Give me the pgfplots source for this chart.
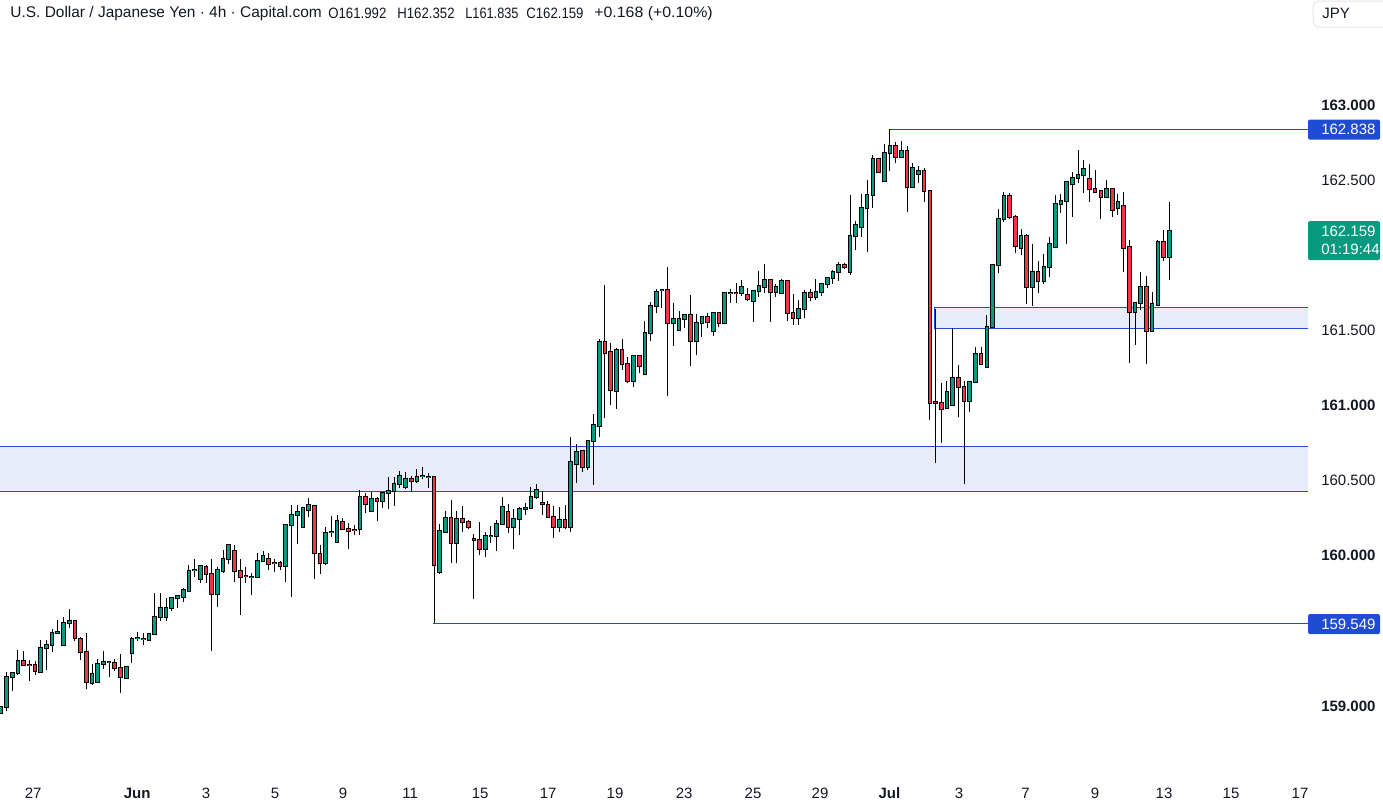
\documentclass[border=0pt]{standalone}
\usepackage{pgfplots}
\pgfplotsset{compat=1.18}
\usepackage{pgfplotstable}
\usepackage{graphicx}
\usepackage{fontspec}
\setmainfont{Liberation Sans}
\definecolor{tvgreen}{RGB}{8,153,129}
\definecolor{tvred}{RGB}{242,54,69}
\definecolor{tvtext}{RGB}{19,23,34}
\definecolor{zonefill}{RGB}{232,236,249}
\definecolor{zoneblue}{RGB}{31,76,210}
\definecolor{boxgray}{RGB}{224,227,235}
\newcommand{\lbl}{\fontsize{11.25pt}{13pt}\selectfont}
\newcommand{\ttl}{\fontsize{11.6pt}{13pt}\selectfont}

\pgfplotstableread{
i o h l c
1 158.955 159.001 158.950 158.995
2 158.995 159.228 158.968 159.194
3 159.194 159.221 159.101 159.217
4 159.217 159.372 159.205 159.299
5 159.296 159.365 159.265 159.270
6 159.271 159.305 159.168 159.269
7 159.270 159.299 159.205 159.230
8 159.228 159.438 159.221 159.383
9 159.383 159.438 159.239 159.403
10 159.403 159.512 159.361 159.483
11 159.485 159.572 159.483 159.489
12 159.403 159.594 159.403 159.549
13 159.549 159.643 159.518 159.563
14 159.563 159.563 159.434 159.450
15 159.443 159.461 159.305 159.356
16 159.356 159.487 159.110 159.157
17 159.150 159.279 159.141 159.210
18 159.157 159.312 159.157 159.276
19 159.276 159.367 159.245 159.290
20 159.289 159.294 159.194 159.290
21 159.283 159.312 159.234 159.250
22 159.250 159.345 159.088 159.190
23 159.183 159.261 159.181 159.256
24 159.350 159.456 159.288 159.445
25 159.449 159.494 159.434 159.450
26 159.448 159.487 159.403 159.446
27 159.436 159.487 159.430 159.476
28 159.476 159.753 159.476 159.593
29 159.589 159.753 159.567 159.649
30 159.593 159.715 159.567 159.655
31 159.655 159.722 159.633 159.715
32 159.715 159.737 159.649 159.731
33 159.726 159.782 159.693 159.771
34 159.768 159.937 159.760 159.897
35 159.902 159.975 159.859 159.904
36 159.848 159.937 159.815 159.930
37 159.926 159.937 159.815 159.875
38 159.875 159.981 159.367 159.742
39 159.748 159.922 159.660 159.908
40 159.899 160.037 159.886 159.975
41 159.975 160.081 159.944 160.068
42 160.028 160.070 159.826 159.895
43 159.895 159.981 159.604 159.855
44 159.866 159.922 159.815 159.864
45 159.855 159.886 159.737 159.858
46 159.855 160.015 159.855 159.964
47 159.962 160.030 159.962 160.001
48 159.975 160.015 159.904 159.946
49 159.948 159.981 159.893 159.949
50 159.948 159.964 159.904 159.933
51 159.933 160.210 159.826 160.203
52 160.203 160.337 159.726 160.270
53 160.268 160.337 160.081 160.288
54 160.193 160.326 160.186 160.315
55 160.304 160.381 160.259 160.335
56 160.330 160.337 159.842 160.015
57 160.008 160.070 159.877 159.948
58 159.948 160.188 159.937 160.148
59 160.157 160.264 160.122 160.158
60 160.088 160.270 160.088 160.230
61 160.221 160.253 160.170 160.181
62 160.181 160.219 160.044 160.166
63 160.172 160.204 160.137 160.170
64 160.175 160.437 160.137 160.388
65 160.392 160.419 160.281 160.341
66 160.295 160.426 160.295 160.375
67 160.375 160.392 160.233 160.361
68 160.361 160.426 160.319 160.415
69 160.415 160.525 160.310 160.430
70 160.428 160.525 160.332 160.477
71 160.477 160.563 160.450 160.530
72 160.459 160.557 160.446 160.508
73 160.508 160.530 160.421 160.494
74 160.494 160.574 160.486 160.521
75 160.529 160.588 160.508 160.531
76 160.525 160.548 160.452 160.526
77 160.521 160.530 159.549 159.935
78 159.889 160.210 159.878 160.162
79 160.160 160.297 160.148 160.248
80 160.248 160.370 159.949 160.082
81 160.082 160.297 159.949 160.242
82 160.242 160.330 160.160 160.222
83 160.222 160.237 160.180 160.193
84 160.113 160.144 159.709 160.104
85 160.104 160.224 160.006 160.042
86 160.042 160.157 159.989 160.131
87 160.130 160.197 160.086 160.131
88 160.131 160.237 160.029 160.208
89 160.208 160.388 160.208 160.322
90 160.288 160.344 160.153 160.188
91 160.188 160.308 160.042 160.242
92 160.246 160.322 160.140 160.308
93 160.314 160.348 160.273 160.316
94 160.315 160.455 160.315 160.388
95 160.388 160.475 160.379 160.435
96 160.348 160.433 160.273 160.346
97 160.339 160.362 160.255 160.255
98 160.255 160.330 160.115 160.193
99 160.193 160.322 160.160 160.237
100 160.237 160.337 160.180 160.188
101 160.188 160.792 160.160 160.621
102 160.608 160.743 160.486 160.688
103 160.694 160.703 160.559 160.588
104 160.588 160.770 160.570 160.761
105 160.765 160.943 160.470 160.869
106 160.863 161.440 160.792 161.422
107 161.422 161.802 160.914 161.347
108 161.353 161.413 161.003 161.100
109 161.094 161.380 160.980 161.369
110 161.369 161.446 161.236 161.273
111 161.273 161.324 161.151 161.160
112 161.160 161.335 161.125 161.327
113 161.327 161.331 161.214 161.262
114 161.207 161.562 161.207 161.486
115 161.486 161.688 161.431 161.660
116 161.660 161.777 161.613 161.759
117 161.768 161.775 161.651 161.769
118 161.766 161.924 161.065 161.546
119 161.546 161.680 161.395 161.573
120 161.506 161.628 161.506 161.573
121 161.573 161.608 161.517 161.600
122 161.600 161.735 161.265 161.427
123 161.427 161.606 161.338 161.546
124 161.551 161.595 161.457 161.591
125 161.586 161.613 161.513 161.553
126 161.493 161.624 161.464 161.613
127 161.613 161.624 161.524 161.551
128 161.546 161.750 161.546 161.746
129 161.746 161.773 161.684 161.748
130 161.747 161.813 161.684 161.746
131 161.747 161.835 161.731 161.787
132 161.733 161.780 161.698 161.707
133 161.698 161.769 161.558 161.760
134 161.760 161.895 161.724 161.795
135 161.787 161.942 161.751 161.833
136 161.833 161.840 161.558 161.758
137 161.758 161.809 161.724 161.789
138 161.747 161.840 161.747 161.827
139 161.827 161.835 161.565 161.618
140 161.618 161.742 161.536 161.580
141 161.580 161.702 161.536 161.645
142 161.645 161.769 161.580 161.747
143 161.747 161.773 161.698 161.724
144 161.720 161.840 161.702 161.753
145 161.753 161.813 161.731 161.807
146 161.807 161.858 161.780 161.846
147 161.846 161.902 161.809 161.886
148 161.886 161.953 161.831 161.933
149 161.933 161.951 161.906 161.920
150 161.891 162.401 161.869 162.126
151 162.126 162.230 162.035 162.199
152 162.190 162.406 162.119 162.312
153 162.312 162.501 162.024 162.399
154 162.399 162.668 162.312 162.639
155 162.639 162.650 162.550 162.552
156 162.497 162.739 162.497 162.679
157 162.679 162.838 162.563 162.727
158 162.727 162.756 162.612 162.656
159 162.656 162.761 162.652 162.694
160 162.694 162.727 162.290 162.452
161 162.452 162.612 162.452 162.579
162 162.539 162.594 162.479 162.559
163 162.559 162.579 162.357 162.426
164 162.426 162.426 160.903 161.014
165 161.021 161.642 160.619 161.019
166 161.014 161.147 160.752 160.977
167 160.981 161.165 160.981 161.092
168 161.001 161.514 161.001 161.181
169 161.181 161.269 160.921 161.121
170 161.121 161.165 160.477 161.030
171 161.030 161.165 160.959 161.158
172 161.158 161.387 161.158 161.340
173 161.340 161.391 161.274 161.274
174 161.258 161.602 161.258 161.520
175 161.525 161.937 161.525 161.933
176 161.933 162.308 161.884 162.239
177 162.239 162.423 162.224 162.392
178 162.392 162.414 162.239 162.253
179 162.253 162.268 162.017 162.059
180 162.046 162.175 162.000 162.126
181 162.126 162.139 161.676 161.786
182 161.791 162.075 161.664 161.890
183 161.890 161.964 161.751 161.830
184 161.830 162.012 161.808 161.924
185 161.924 162.123 161.857 162.072
186 162.057 162.401 162.046 162.339
187 162.339 162.405 162.283 162.361
188 162.363 162.494 162.075 162.485
189 162.478 162.552 162.257 162.512
190 162.512 162.700 162.483 162.534
191 162.534 162.634 162.416 162.578
192 162.505 162.607 162.356 162.439
193 162.439 162.567 162.412 162.423
194 162.427 162.434 162.245 162.385
195 162.390 162.501 162.379 162.439
196 162.439 162.445 162.257 162.305
197 162.312 162.407 162.268 162.352
198 162.328 162.419 161.890 162.046
199 162.052 162.101 161.285 161.624
200 161.624 161.684 161.404 161.680
201 161.680 161.888 161.635 161.786
202 161.786 161.864 161.276 161.498
203 161.498 161.757 161.491 161.673
204 161.669 162.103 161.664 162.088
205 162.088 162.170 161.959 161.988
206 161.992 162.352 161.835 162.159
}\candles

\begin{document}
\begin{tikzpicture}
\begin{axis}[
  at={(0pt,0pt)}, anchor=north west,
  scale only axis, width=981pt, height=585pt,
  xmin=0.877, xmax=230.35, ymin=158.506, ymax=163.699,
  axis line style={draw=none}, major tick length=0pt,
  ytick={159,160,160.5,161,161.5,162.5,163},
  yticklabels={\textbf{159.000},\textbf{160.000},160.500,\textbf{161.000},161.500,162.500,\textbf{163.000}},
  yticklabel pos=right,
  yticklabel style={anchor=west, inner sep=0pt, xshift=9.75pt, font=\lbl, text=tvtext},
  xtick={6.67,24.91,37.02,49.12,61.05,72.81,85.09,97.02,108.77,120.88,132.98,144.74,156.91,169.12,180.79,192.98,205.09,216.84,228.95},
  xticklabels={27,\textbf{Jun},3,5,9,11,15,17,19,23,25,29,\textbf{Jul},3,7,9,13,15,17},
  xticklabel style={anchor=center, inner sep=0pt, yshift=-9.75pt, font=\lbl, text=tvtext},
  clip=true,
]
% zones
\addplot[fill=zonefill, draw=none, forget plot] coordinates {(0.877,160.43) (230.35,160.43) (230.35,160.73) (0.877,160.73)} -- cycle;
\addplot[zoneblue, line width=0.75pt, forget plot] coordinates {(0.877,160.73) (230.35,160.73)};
\addplot[zoneblue, line width=0.75pt, forget plot] coordinates {(0.877,160.43) (230.35,160.43)};
\addplot[fill=zonefill, draw=zoneblue, line width=0.75pt, forget plot] coordinates {(164.9,161.514) (231,161.514) (231,161.653) (164.9,161.653)} -- cycle;
% levels
\addplot[zoneblue, line width=0.75pt, forget plot] coordinates {(156.75,162.838) (230.35,162.838)};
\addplot[zoneblue, line width=0.75pt, forget plot] coordinates {(76.8,159.549) (230.35,159.549)};
% wicks
\addplot[forget plot, draw=none, mark=none,
  error bars/.cd, y dir=plus, y explicit, error mark=none,
  error bar style={draw=black, line width=0.75pt}]
  table[x=i, y=l, y error expr=\thisrow{h}-\thisrow{l}] {\candles};
% body outlines
\addplot[forget plot, draw=none, mark=none,
  error bars/.cd, y dir=plus, y explicit, error mark=none,
  error bar style={draw=black, line width=3.5pt, shorten <=-0.75pt, shorten >=-0.75pt}]
  table[x=i, y expr={min(\thisrow{o},\thisrow{c})}, y error expr={abs(\thisrow{c}-\thisrow{o})}] {\candles};
% green bodies
\addplot[forget plot, draw=none, mark=none,
  restrict expr to domain={\thisrow{c}-\thisrow{o}}{0:10},
  error bars/.cd, y dir=plus, y explicit, error mark=none,
  error bar style={draw=tvgreen, line width=2pt}]
  table[x=i, y=o, y error expr={\thisrow{c}-\thisrow{o}}] {\candles};
% red bodies
\addplot[forget plot, draw=none, mark=none,
  restrict expr to domain={\thisrow{c}-\thisrow{o}}{-10:0},
  error bars/.cd, y dir=plus, y explicit, error mark=none,
  error bar style={draw=tvred, line width=2pt}]
  table[x=i, y=c, y error expr={\thisrow{o}-\thisrow{c}}] {\candles};
\end{axis}
\begin{scope}[x=0.75pt, y=-0.75pt]
\path[use as bounding box] (0,0) rectangle (1383,807);
% price labels
\fill[zoneblue, rounded corners=1.5pt] (1308,119.5) rectangle (1380,139.5);
\node[anchor=west, inner sep=0pt, text=white, font=\lbl] at (1321,129.5) {162.838};
\fill[tvgreen, rounded corners=1.5pt] (1308,221) rectangle (1380,260);
\node[anchor=west, inner sep=0pt, text=white, font=\lbl] at (1321,231.5) {162.159};
\node[anchor=west, inner sep=0pt, text=white, font=\lbl] at (1321,249) {01:19:44};
\fill[zoneblue, rounded corners=1.5pt] (1308,614) rectangle (1380,634);
\node[anchor=west, inner sep=0pt, text=white, font=\lbl] at (1321,624) {159.549};
% JPY box
\draw[boxgray, line width=0.75pt, rounded corners=4pt] (1313,1) rectangle (1390,27);
\node[inner sep=0pt, text=tvtext, font=\lbl] at (1336,13.5) {JPY};
% title
\node[anchor=west, inner sep=0pt, text=tvtext, font=\ttl] at (10,13.5) {U.S. Dollar / Japanese Yen · 4h · Capital.com};
\node[anchor=west, inner sep=0pt, text=tvtext, font=\lbl] at (328,13.5) {\scalebox{0.88}[1]{O161.992}};
\node[anchor=west, inner sep=0pt, text=tvtext, font=\lbl] at (397,13.5) {\scalebox{0.88}[1]{H162.352}};
\node[anchor=west, inner sep=0pt, text=tvtext, font=\lbl] at (465,13.5) {\scalebox{0.85}[1]{L161.835}};
\node[anchor=west, inner sep=0pt, text=tvtext, font=\lbl] at (526,13.5) {\scalebox{0.88}[1]{C162.159}};
\node[anchor=west, inner sep=0pt, text=tvtext, font=\lbl] at (594,13.5) {\scalebox{1.06}[1]{+0.168 (+0.10\%)}};
\end{scope}
\end{tikzpicture}
\end{document}
